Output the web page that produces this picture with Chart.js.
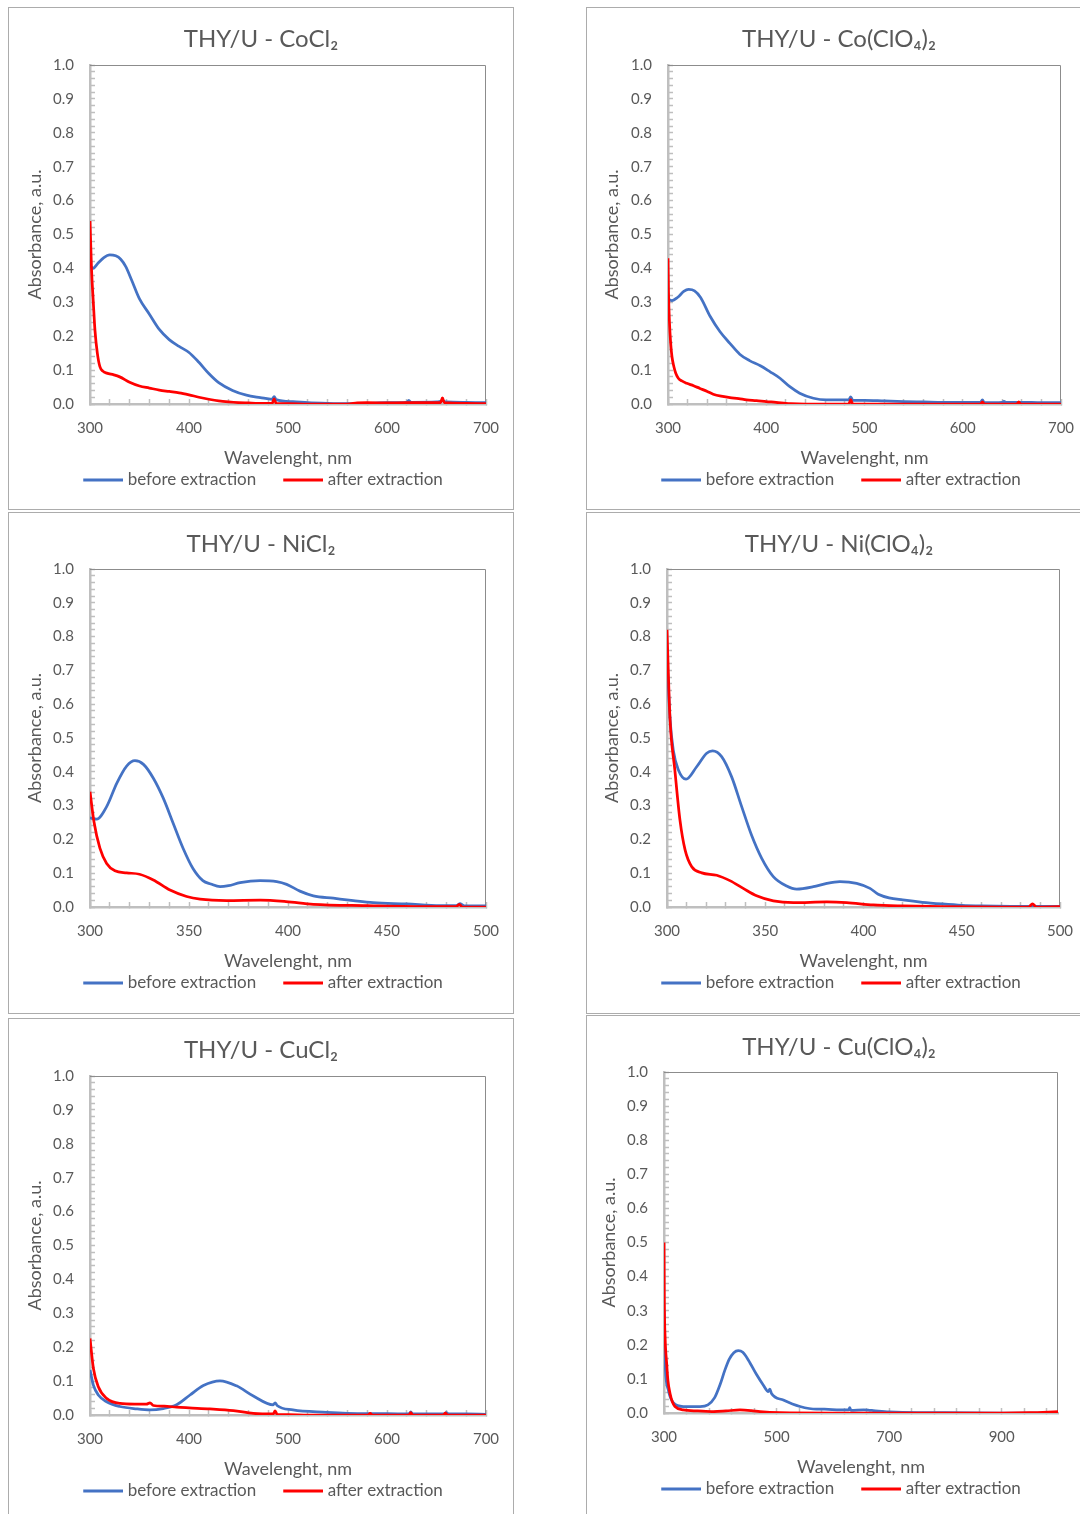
<!DOCTYPE html>
<html>
<head>
<meta charset="utf-8">
<script src="https://cdn.jsdelivr.net/npm/chart.js@4.4.1/dist/chart.umd.min.js"></script>
<style>
html, body { margin: 0; padding: 0; background: #fff; width: 1080px; height: 1514px; overflow: hidden; }
.panel { position: absolute; border: 1.5px solid #acacac; box-sizing: border-box; }
canvas { position: absolute; }
</style>
</head>
<body>
<script>
// ---- data ----
const coCl2BeforeX = [300, 303, 308, 314, 320, 326, 331, 336, 342, 350, 360, 370, 380, 390, 400, 410, 420, 430, 444, 458, 472, 484, 486, 488, 505, 520, 540, 560, 580, 600, 620, 622, 624, 650, 656, 660, 680, 700];
const coCl2BeforeY = [0.41, 0.40, 0.415, 0.432, 0.44, 0.437, 0.427, 0.406, 0.366, 0.31, 0.265, 0.22, 0.19, 0.17, 0.152, 0.123, 0.09, 0.063, 0.04, 0.026, 0.019, 0.014, 0.022, 0.013, 0.007, 0.004, 0.002, 0.001, 0.002, 0.004, 0.005, 0.011, 0.005, 0.006, 0.009, 0.006, 0.005, 0.004];
const coCl2AfterX = [300, 301.5, 303.4, 305, 307.4, 310, 313, 317, 324, 330, 340, 350, 360, 370, 380, 390, 400, 410, 420, 430, 440, 450, 460, 470, 484, 486, 488, 500, 520, 540, 560, 570, 580, 600, 620, 640, 654, 656, 658, 680, 700];
const coCl2AfterY = [0.54, 0.40, 0.297, 0.218, 0.15, 0.11, 0.097, 0.091, 0.086, 0.08, 0.064, 0.053, 0.047, 0.041, 0.037, 0.033, 0.027, 0.02, 0.014, 0.009, 0.006, 0.004, 0.003, 0.002, 0.002, 0.015, 0.002, 0.001, 0, 0, 0, 0.003, 0.004, 0.003, 0.004, 0.004, 0.004, 0.018, 0.004, 0.002, 0.001];

const coClo4BeforeX = [300, 304, 310, 316, 321, 327, 333, 343, 353, 363, 373, 383, 394, 404, 414, 424, 434, 448, 461, 475, 484, 486, 488, 500, 520, 540, 560, 580, 600, 618, 620, 622, 640, 642, 644, 660, 680, 700];
const coClo4BeforeY = [0.31, 0.305, 0.315, 0.332, 0.338, 0.334, 0.315, 0.258, 0.213, 0.179, 0.147, 0.128, 0.113, 0.095, 0.076, 0.051, 0.032, 0.017, 0.012, 0.012, 0.012, 0.021, 0.011, 0.011, 0.009, 0.007, 0.006, 0.005, 0.005, 0.005, 0.012, 0.004, 0.005, 0.008, 0.005, 0.005, 0.004, 0.004];
const coClo4AfterX = [300, 300.5, 301.5, 302.7, 304, 306, 308, 310.5, 314, 319, 326, 332.5, 340, 346, 354, 363, 372, 380, 390, 400, 410, 420, 425, 440, 460, 484, 486, 488, 500, 550, 600, 618, 620, 622, 655, 657, 659, 680, 700];
const coClo4AfterY = [0.43, 0.33, 0.24, 0.18, 0.14, 0.11, 0.09, 0.076, 0.068, 0.061, 0.054, 0.046, 0.037, 0.029, 0.023, 0.019, 0.016, 0.012, 0.010, 0.007, 0.005, 0.002, 0.001, 0, 0, 0, 0.013, 0, 0, 0, 0, 0, 0.006, 0, 0, 0.006, 0, 0, 0];

const niCl2BeforeX = [300, 303.4, 308.4, 313.5, 318.5, 322.7, 327, 332, 337, 342, 347, 352, 357, 361, 365.7, 370, 375.8, 385.9, 394.3, 399.3, 406, 412.8, 422.9, 433, 443, 460, 476.8, 485, 487, 489, 500];
const niCl2BeforeY = [0.264, 0.26, 0.297, 0.366, 0.417, 0.433, 0.422, 0.381, 0.322, 0.248, 0.174, 0.114, 0.078, 0.068, 0.06, 0.063, 0.072, 0.078, 0.075, 0.067, 0.047, 0.033, 0.026, 0.019, 0.013, 0.009, 0.004, 0.004, 0.01, 0.003, 0.003];
const niCl2AfterX = [300, 302, 305, 308.4, 312.6, 318.5, 325, 332, 340.4, 348.8, 355.6, 369, 386, 399, 412.8, 439.7, 473, 485, 486.5, 488, 500];
const niCl2AfterY = [0.341, 0.252, 0.174, 0.129, 0.107, 0.101, 0.097, 0.08, 0.05, 0.031, 0.023, 0.019, 0.02, 0.016, 0.008, 0.004, 0.001, 0.001, 0.008, 0, 0];

const niClo4BeforeX = [300, 301.5, 303.2, 305.8, 309.7, 315.1, 320.2, 323.2, 327.8, 332.9, 338, 343, 348.2, 354.1, 360.9, 366, 374.5, 381.3, 388, 396.5, 403.3, 407.5, 413, 420, 430, 440, 450, 460, 475, 484, 486, 488, 500];
const niClo4BeforeY = [0.74, 0.56, 0.464, 0.405, 0.378, 0.415, 0.455, 0.462, 0.445, 0.385, 0.297, 0.213, 0.144, 0.09, 0.062, 0.053, 0.06, 0.07, 0.075, 0.07, 0.055, 0.038, 0.027, 0.021, 0.014, 0.009, 0.005, 0.003, 0.002, 0.002, 0.004, 0.002, 0.002];
const niClo4AfterX = [300, 301.5, 304, 306.6, 309.2, 312.6, 317.7, 325.3, 332, 338.8, 345.6, 354.1, 364.3, 381.3, 391.4, 405, 420, 440, 470, 484, 486, 488, 500];
const niClo4AfterY = [0.82, 0.56, 0.405, 0.257, 0.169, 0.119, 0.101, 0.094, 0.078, 0.055, 0.033, 0.018, 0.013, 0.015, 0.013, 0.006, 0.003, 0.001, 0, 0, 0.009, 0, 0.001];

const cuCl2BeforeX = [300, 303.4, 308.4, 316.8, 330.3, 347, 360.6, 374, 387.5, 401, 414.5, 431.3, 448, 465, 485, 487, 489, 505, 539, 560, 580, 600, 622, 624, 626, 640, 658, 660, 662, 680, 700];
const cuCl2BeforeY = [0.133, 0.088, 0.059, 0.039, 0.025, 0.018, 0.015, 0.019, 0.03, 0.059, 0.087, 0.101, 0.086, 0.056, 0.03, 0.036, 0.028, 0.015, 0.008, 0.005, 0.004, 0.004, 0.003, 0.009, 0.003, 0.003, 0.003, 0.007, 0.003, 0.003, 0.002];
const cuCl2AfterX = [300, 303.4, 308.4, 316.8, 330.3, 345, 357, 360.6, 364, 375, 387.5, 400, 421, 444.8, 465, 485, 487, 489, 500, 520, 560, 581, 583, 585, 622, 624, 626, 657, 659, 661, 700];
const cuCl2AfterY = [0.226, 0.138, 0.083, 0.049, 0.034, 0.032, 0.032, 0.036, 0.028, 0.026, 0.023, 0.021, 0.018, 0.013, 0.005, 0.003, 0.012, 0.002, 0.001, 0, 0, 0, 0.005, 0, 0, 0.007, 0, 0, 0.006, 0, 0];

const cuClo4BeforeX = [300, 302, 307.6, 316.5, 334.3, 364, 378, 390, 400, 408, 416, 424, 432, 440, 450, 464.7, 476, 485.4, 488, 491, 512, 541.6, 571, 585, 612.6, 628, 630, 632, 655, 665, 671.8, 700, 750, 800, 900, 1000];
const cuClo4BeforeY = [0.30, 0.146, 0.068, 0.03, 0.019, 0.019, 0.024, 0.045, 0.085, 0.125, 0.158, 0.177, 0.183, 0.178, 0.155, 0.112, 0.083, 0.063, 0.07, 0.057, 0.038, 0.019, 0.011, 0.011, 0.009, 0.009, 0.016, 0.008, 0.009, 0.008, 0.007, 0.003, 0.001, 0.001, 0, 0];
const cuClo4AfterX = [300, 300.5, 302, 304.7, 307, 310.6, 315, 319.5, 334, 360, 387.6, 410, 435, 455, 470.5, 506, 600, 700, 800, 900, 950, 1000];
const cuClo4AfterY = [0.50, 0.34, 0.22, 0.146, 0.095, 0.058, 0.032, 0.019, 0.009, 0.006, 0.004, 0.006, 0.009, 0.007, 0.004, 0.001, 0, 0, 0, 0, 0.001, 0.004];

const yMajorLabels = [0, 0.1, 0.2, 0.3, 0.4, 0.5, 0.6, 0.7, 0.8, 0.9, 1.0];
const xLabels700 = [300, 400, 500, 600, 700];
const xLabels500 = [300, 350, 400, 450, 500];
const xLabels1000 = [300, 500, 700, 900];

const seriesNames = ['before extraction', 'after extraction'];

const BLUE = '#4472C4', RED = '#FF0000', TEXT = '#595959', AXIS = '#BFBFBF';
const FONT = 'Lato, "Open Sans", sans-serif';
Chart.defaults.font.family = FONT;
Chart.defaults.color = TEXT;

const panels = [
    { title: 'THY/U - CoCl₂', left: 8, top: 7, w: 506, h: 503, plot: [82, 58, 478, 397], xMin: 300, xMax: 700, xMinor: 20, xLabels: xLabels700, yTitleX: 27,
      before: [coCl2BeforeX, coCl2BeforeY], after: [coCl2AfterX, coCl2AfterY] },
    { title: 'THY/U - Co(ClO₄)₂', left: 586, top: 7, w: 506, h: 503, plot: [82, 58, 475, 397], xMin: 300, xMax: 700, xMinor: 20, xLabels: xLabels700, yTitleX: 26,
      before: [coClo4BeforeX, coClo4BeforeY], after: [coClo4AfterX, coClo4AfterY] },
    { title: 'THY/U - NiCl₂', left: 8, top: 512, w: 506, h: 502, plot: [82, 57, 478, 395], xMin: 300, xMax: 500, xMinor: 10, xLabels: xLabels500, yTitleX: 27,
      before: [niCl2BeforeX, niCl2BeforeY], after: [niCl2AfterX, niCl2AfterY] },
    { title: 'THY/U - Ni(ClO₄)₂', left: 586, top: 512, w: 506, h: 502, plot: [81, 57, 474, 395], xMin: 300, xMax: 500, xMinor: 10, xLabels: xLabels500, yTitleX: 26,
      before: [niClo4BeforeX, niClo4BeforeY], after: [niClo4AfterX, niClo4AfterY] },
    { title: 'THY/U - CuCl₂', left: 8, top: 1018, w: 506, h: 503, plot: [82, 58, 478, 397], xMin: 300, xMax: 700, xMinor: 20, xLabels: xLabels700, yTitleX: 27,
      before: [cuCl2BeforeX, cuCl2BeforeY], after: [cuCl2AfterX, cuCl2AfterY] },
    { title: 'THY/U - Cu(ClO₄)₂', left: 586, top: 1015, w: 506, h: 503, plot: [78, 57, 472, 398], xMin: 300, xMax: 1000, xMinor: 40, xLabels: xLabels1000, yTitleX: 23,
      before: [cuClo4BeforeX, cuClo4BeforeY], after: [cuClo4AfterX, cuClo4AfterY] }
];

// top and right edge of the plot frame
const frame = {
    id: 'frame',
    beforeDatasetsDraw(chart) {
        const {ctx, chartArea: a} = chart;
        ctx.save();
        ctx.strokeStyle = '#8c8c8c';
        ctx.lineWidth = 1;
        ctx.beginPath();
        ctx.moveTo(a.left, a.top + 0.5);
        ctx.lineTo(a.right - 0.5, a.top + 0.5);
        ctx.lineTo(a.right - 0.5, a.bottom);
        ctx.stroke();
        ctx.restore();
    }
};

// legend swatch: a short line that sits close to its text
function legendLine(color) {
    const c = document.createElement('canvas');
    c.width = 48;
    c.height = 4;
    const g = c.getContext('2d');
    g.fillStyle = color;
    g.fillRect(8, 0.5, 40, 3);
    return c;
}
const blueSwatch = legendLine(BLUE), redSwatch = legendLine(RED);

function toPoints(s) {
    return s[0].map((x, i) => ({x: x, y: s[1][i]}));
}

function drawPanel(p) {
    const box = document.createElement('div');
    box.className = 'panel';
    box.style.left = p.left + 'px';
    box.style.top = p.top + 'px';
    box.style.width = p.w + 'px';
    box.style.height = p.h + 'px';
    document.body.appendChild(box);

    const canvas = document.createElement('canvas');
    canvas.width = p.w;
    canvas.height = p.h;
    canvas.style.left = p.left + 'px';
    canvas.style.top = p.top + 'px';
    document.body.appendChild(canvas);

    const [pl, pt, pr, pb] = p.plot;
    const side = p.w - pr;
    const padBottom = p.h - pb - 44.5 - 50;

    const tickGrid = {drawOnChartArea: false, drawTicks: true, tickLength: -5, tickColor: AXIS, tickWidth: 1.5};
    const tickFont = {family: FONT, size: 15, lineHeight: 1.2};

    new Chart(canvas.getContext('2d'), {
        type: 'line',
        data: {
            datasets: [
                {label: seriesNames[0], data: toPoints(p.before), borderColor: BLUE, backgroundColor: BLUE,
                    borderWidth: 2.75, pointRadius: 0, pointStyle: blueSwatch, cubicInterpolationMode: 'monotone', order: 1},
                {label: seriesNames[1], data: toPoints(p.after), borderColor: RED, backgroundColor: RED,
                    borderWidth: 2.75, pointRadius: 0, pointStyle: redSwatch, cubicInterpolationMode: 'monotone', order: 0}
            ]
        },
        options: {
            responsive: false,
            animation: false,
            events: [],
            layout: {padding: {left: side, right: side, top: 0, bottom: padBottom}},
            plugins: {
                title: {display: true, text: p.title, color: TEXT,
                    font: {family: FONT, size: 24, weight: 'normal', lineHeight: 1},
                    padding: {top: 20, bottom: pt - 44}},
                legend: {position: 'bottom',
                    labels: {usePointStyle: true, pointStyleWidth: 40, padding: 23,
                        color: TEXT, font: {family: FONT, size: 17},
                        sort: (a, b) => a.datasetIndex - b.datasetIndex}},
                tooltip: {enabled: false}
            },
            scales: {
                x: {
                    type: 'linear', min: p.xMin, max: p.xMax,
                    afterBuildTicks: s => {
                        const t = [];
                        for (let v = p.xMin; v <= p.xMax; v += p.xMinor) t.push({value: v});
                        s.ticks = t;
                    },
                    afterFit: s => {
                        s.height = p.h - padBottom - s.chart.legend.height - pb;
                        s.paddingLeft = 0;
                        s.paddingRight = 0;
                    },
                    ticks: {autoSkip: false, maxRotation: 0, padding: 20, color: TEXT, font: tickFont,
                        callback: v => p.xLabels.includes(v) ? String(v) : ''},
                    grid: tickGrid,
                    border: {color: AXIS, width: 2.5},
                    title: {display: true, text: 'Wavelenght, nm', color: TEXT,
                        font: {family: FONT, size: 18, lineHeight: 1}, padding: {top: 0, bottom: -18.5}}
                },
                y: {
                    min: 0, max: 1,
                    afterBuildTicks: s => {
                        const t = [];
                        for (let i = 0; i <= 50; i++) t.push({value: Math.round(i * 2) / 100});
                        s.ticks = t;
                    },
                    afterFit: s => {
                        s.width = pl - side;
                        s.paddingTop = 0;
                        s.paddingBottom = 0;
                    },
                    ticks: {autoSkip: false, padding: 21, color: TEXT, font: tickFont,
                        callback: v => yMajorLabels.some(m => Math.abs(m - v) < 1e-6) ? v.toFixed(1) : ''},
                    grid: tickGrid,
                    border: {color: AXIS, width: 2.5},
                    title: {display: true, text: 'Absorbance, a.u.', color: TEXT,
                        font: {family: FONT, size: 18, lineHeight: 1}, padding: {top: p.yTitleX - side - 9, bottom: 0}}
                }
            }
        },
        plugins: [frame]
    });
}

panels.forEach(drawPanel);
</script>
</body>
</html>
